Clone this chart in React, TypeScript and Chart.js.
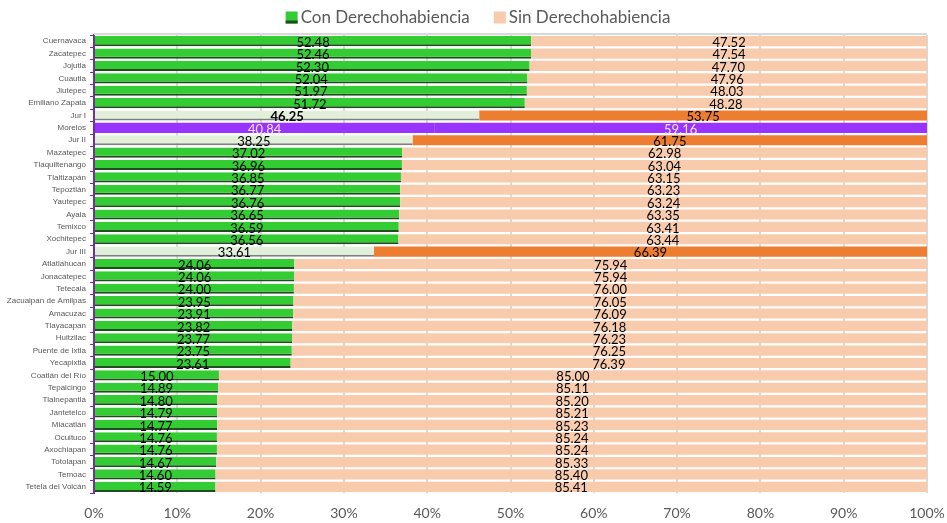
import React, { useEffect, useRef } from "react";
import { Chart, registerables } from "chart.js";

Chart.register(...registerables);

const categories = [
  "Cuernavaca", "Zacatepec", "Jojutla", "Cuautla", "Jiutepec", "Emiliano Zapata",
  "Jur I", "Morelos", "Jur II", "Mazatepec", "Tlaquiltenango", "Tlaltizapán",
  "Tepoztlán", "Yautepec", "Ayala", "Temixco", "Xochitepec", "Jur III",
  "Atlatlahucan", "Jonacatepec", "Tetecala", "Zacualpan de Amilpas", "Amacuzac",
  "Tlayacapan", "Huitzilac", "Puente de Ixtla", "Yecapixtla", "Coatlán del Río",
  "Tepalcingo", "Tlalnepantla", "Jantetelco", "Miacatlán", "Ocuituco",
  "Axochiapan", "Totolapan", "Temoac", "Tetela del Volcán",
];

const conDerecho = [
  52.48, 52.46, 52.30, 52.04, 51.97, 51.72, 46.25, 40.84, 38.25, 37.02, 36.96,
  36.85, 36.77, 36.76, 36.65, 36.59, 36.56, 33.61, 24.06, 24.06, 24.00, 23.95,
  23.91, 23.82, 23.77, 23.75, 23.61, 15.00, 14.89, 14.80, 14.79, 14.77, 14.76,
  14.76, 14.67, 14.60, 14.59,
];

const sinDerecho = [
  47.52, 47.54, 47.70, 47.96, 48.03, 48.28, 53.75, 59.16, 61.75, 62.98, 63.04,
  63.15, 63.23, 63.24, 63.35, 63.41, 63.44, 66.39, 75.94, 75.94, 76.00, 76.05,
  76.09, 76.18, 76.23, 76.25, 76.39, 85.00, 85.11, 85.20, 85.21, 85.23, 85.24,
  85.24, 85.33, 85.40, 85.41,
];

const seriesNames = ["Con Derechohabiencia", "Sin Derechohabiencia"];
const xTicks = [0, 10, 20, 30, 40, 50, 60, 70, 80, 90, 100];

const isJur = (c: string) => c.startsWith("Jur ");
const isState = (c: string) => c === "Morelos";

const conColors = categories.map((c) =>
  isState(c) ? "#9933ff" : isJur(c) ? "#e2efda" : "#33cc33"
);
const conBorder = categories.map((c) =>
  isState(c) ? "#9933ff" : isJur(c) ? "#7f7f7f" : "#1f4d1f"
);
const conBorderW = categories.map((c) =>
  isState(c) ? 0 : { top: 0, left: 0, right: 0, bottom: 2 }
);
const sinColors = categories.map((c) =>
  isState(c) ? "#9933ff" : isJur(c) ? "#ed7d31" : "#f8cbad"
);

const labelPlugin = {
  id: "barLabels",
  afterDatasetsDraw(chart: any) {
    const ctx = chart.ctx;
    ctx.save();
    ctx.textAlign = "center";
    ctx.textBaseline = "middle";
    chart.data.datasets.forEach((ds: any, di: number) => {
      const meta = chart.getDatasetMeta(di);
      meta.data.forEach((el: any, i: number) => {
        const { x, y, base } = el.getProps(["x", "y", "base"], true);
        const cat = categories[i];
        const bold = di === 0 && cat === "Jur I";
        ctx.font = `${bold ? "bold " : ""}13px Lato`;
        ctx.fillStyle = isState(cat) ? "#f2e6ff" : "#000000";
        ctx.fillText(Number(ds.data[i]).toFixed(2), (x + base) / 2, y + 1.5);
      });
    });
    ctx.restore();
  },
};

const framePlugin = {
  id: "frame",
  beforeDatasetsDraw(chart: any) {
    const { ctx, chartArea } = chart;
    ctx.save();
    ctx.strokeStyle = "#d9d9d9";
    ctx.lineWidth = 2;
    ctx.beginPath();
    ctx.moveTo(chartArea.left, chartArea.top - 1);
    ctx.lineTo(chartArea.right, chartArea.top - 1);
    ctx.stroke();
    ctx.restore();
  },
};

const legendPlugin = {
  id: "customLegend",
  afterDraw(chart: any) {
    const ctx = chart.ctx;
    ctx.save();
    ctx.font = "17px Lato";
    ctx.textBaseline = "middle";
    ctx.textAlign = "left";
    const w1 = ctx.measureText(seriesNames[0]).width;
    const w2 = ctx.measureText(seriesNames[1]).width;
    const box = 12;
    const gapText = 3;
    const gapItem = 24;
    const total = box + gapText + w1 + gapItem + box + gapText + w2;
    let x = 478 - total / 2;
    const yMid = 17.5;
    // item 1
    ctx.fillStyle = "#33cc33";
    ctx.fillRect(x, yMid - 6, box, box);
    ctx.fillStyle = "#1f4d1f";
    ctx.fillRect(x, yMid + 3, box, 3);
    ctx.fillStyle = "#595959";
    ctx.fillText(seriesNames[0], x + box + gapText, yMid);
    x += box + gapText + w1 + gapItem;
    ctx.fillStyle = "#f8cbad";
    ctx.fillRect(x, yMid - 6, box, box);
    ctx.fillStyle = "#595959";
    ctx.fillText(seriesNames[1], x + box + gapText, yMid);
    ctx.restore();
  },
};

export default function App() {
  const ref = useRef<HTMLCanvasElement | null>(null);
  useEffect(() => {
    document.body.style.margin = "0";
    const chart = new Chart(ref.current as HTMLCanvasElement, {
      type: "bar",
      data: {
        labels: categories,
        datasets: [
          {
            label: seriesNames[0],
            data: conDerecho,
            backgroundColor: conColors,
            borderColor: conBorder,
            borderWidth: conBorderW as any,
            borderSkipped: false,
            barPercentage: 0.82,
            categoryPercentage: 1,
          },
          {
            label: seriesNames[1],
            data: sinDerecho,
            backgroundColor: sinColors,
            borderWidth: 0,
            barPercentage: 0.82,
            categoryPercentage: 1,
          },
        ],
      },
      options: {
        indexAxis: "y",
        animation: false,
        responsive: false,
        maintainAspectRatio: false,
        layout: { padding: { left: 0, right: 20, top: 35, bottom: 0 } },
        plugins: {
          tooltip: { enabled: false },
          legend: { display: false },
        },
        scales: {
          x: {
            stacked: true,
            min: 0,
            max: 100,
            afterBuildTicks: (scale: any) => {
              scale.ticks = xTicks.map((v) => ({ value: v }));
            },
            afterFit: (scale: any) => {
              scale.paddingRight = 0;
              scale.paddingLeft = 0;
              scale.height = 30;
            },
            ticks: {
              callback: (v: any) => v + "%",
              font: { family: "Lato", size: 14 },
              color: "#595959",
              padding: 12,
            },
            grid: { color: "#d9d9d9", lineWidth: 2, drawTicks: false },
            border: { display: false },
          },
          y: {
            stacked: true,
            afterFit: (scale: any) => {
              scale.width = 94;
              scale.paddingTop = 0;
              scale.paddingBottom = 0;
            },
            ticks: {
              font: { family: "Liberation Sans", size: 8 },
              color: "#595959",
              padding: 4,
              autoSkip: false,
            },
            grid: {
              drawOnChartArea: false,
              drawTicks: true,
              tickLength: 4,
              tickColor: "#7030a0",
              color: "#7030a0",
            },
            border: { display: true, color: "#7030a0", width: 2 },
          },
        },
      },
      plugins: [labelPlugin, framePlugin, legendPlugin],
    });
    return () => chart.destroy();
  }, []);
  return (
    <div style={{ position: "absolute", left: 0, top: 0, width: 947, height: 523 }}>
      <canvas ref={ref} width={947} height={523} style={{ width: 947, height: 523 }} />
    </div>
  );
}
